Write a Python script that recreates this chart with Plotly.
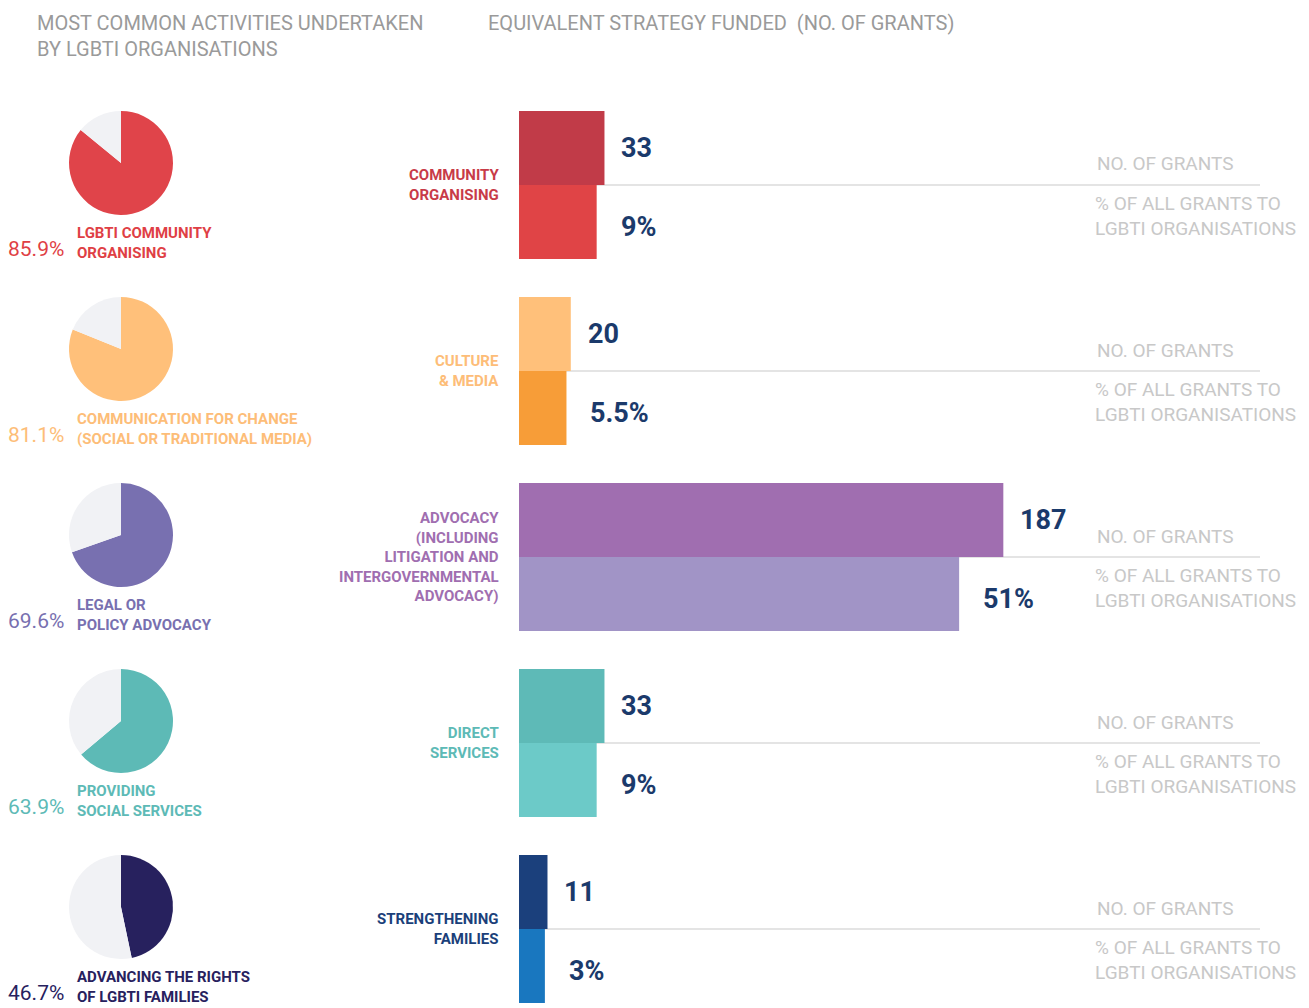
import plotly.graph_objects as go

W, H = 1309, 1008

# ---------------- data ----------------
activity_share = [85.9, 81.1, 69.6, 63.9, 46.7]
activity_labels = [
    "LGBTI COMMUNITY<br>ORGANISING",
    "COMMUNICATION FOR CHANGE<br>(SOCIAL OR TRADITIONAL MEDIA)",
    "LEGAL OR<br>POLICY ADVOCACY",
    "PROVIDING<br>SOCIAL SERVICES",
    "ADVANCING THE RIGHTS<br>OF LGBTI FAMILIES",
]
strategies = [
    "COMMUNITY<br>ORGANISING",
    "CULTURE<br>& MEDIA",
    "ADVOCACY<br>(INCLUDING<br>LITIGATION AND<br>INTERGOVERNMENTAL<br>ADVOCACY)",
    "DIRECT<br>SERVICES",
    "STRENGTHENING<br>FAMILIES",
]
grants = [33, 20, 187, 33, 11]
grant_share = [9, 5.5, 51, 9, 3]

# ---------------- styles ----------------
pie_colors = ["#e0444a", "#ffc07a", "#7870b0", "#5dbab6", "#27215e"]
act_text_colors = ["#df3f45", "#fdbd78", "#7870b0", "#5dbab6", "#27215e"]
strat_text_colors = ["#c83b48", "#fdbd78", "#a06eb0", "#5dbab6", "#1b3f7a"]
count_colors = ["#c13b48", "#ffc07a", "#a06eb0", "#5ebab7", "#1b407c"]
share_colors = ["#e04446", "#f79d38", "#a194c6", "#6ccac8", "#1977bf"]
rest_color = "#f1f2f5"
value_color = "#1b3a6b"
grey_text = "#9a9a9a"
light_text = "#c8c8c8"
FONT = "Roboto"

ROW0, PITCH, BAR_H = 185, 186, 74
BAR_X0 = 519
PX_PER_GRANT = 2.59
PX_PER_PCT = 8.63
half = BAR_H / 2 / PITCH


def px(x):
    return x / W


def py(y):
    return 1 - y / H


fig = go.Figure()

n = len(grants)
groups = list(range(n))

# bars: number of grants
fig.add_trace(go.Bar(
    x=grants, y=[g - half for g in groups], orientation="h",
    width=BAR_H / PITCH, marker=dict(color=count_colors, line=dict(width=0)),
    xaxis="x", yaxis="y", hoverinfo="x", showlegend=False,
))
# bars: share of grants
fig.add_trace(go.Bar(
    x=grant_share, y=[g + half for g in groups], orientation="h",
    width=BAR_H / PITCH, marker=dict(color=share_colors, line=dict(width=0)),
    xaxis="x2", yaxis="y", hoverinfo="x", showlegend=False,
))

# pies
R = 52
for i in groups:
    cy = ROW0 + PITCH * i - 22
    cx = 121
    fig.add_trace(go.Pie(
        values=[activity_share[i], 100 - activity_share[i]],
        marker=dict(colors=[pie_colors[i], rest_color], line=dict(width=0)),
        sort=False, direction="clockwise", rotation=0,
        textinfo="none", hoverinfo="none", showlegend=False,
        domain=dict(x=[px(cx - R), px(cx + R)], y=[py(cy + R), py(cy - R)]),
    ))

annotations = []
shapes = []

# titles
annotations.append(dict(
    x=px(35), y=py(9), xref="paper", yref="paper", xanchor="left", yanchor="top",
    text="MOST COMMON ACTIVITIES UNDERTAKEN<br>BY LGBTI ORGANISATIONS", align="left",
    showarrow=False, font=dict(family=FONT, size=20, color=grey_text),
))
annotations.append(dict(
    x=px(486), y=py(9), xref="paper", yref="paper", xanchor="left", yanchor="top",
    text="EQUIVALENT STRATEGY FUNDED  (NO. OF GRANTS)", align="left",
    showarrow=False, font=dict(family=FONT, size=20, color=grey_text),
))

for i in groups:
    line_y = ROW0 + PITCH * i
    # left percentage
    annotations.append(dict(
        x=px(66), y=py(line_y + 64), xref="paper", yref="paper", xanchor="right", yanchor="middle",
        text=f"{activity_share[i]}%", showarrow=False,
        font=dict(family=FONT, size=21, color=act_text_colors[i]),
    ))
    # activity label
    annotations.append(dict(
        x=px(75), y=py(line_y + 58), xref="paper", yref="paper", xanchor="left", yanchor="middle",
        text=f"<b>{activity_labels[i]}</b>", align="left", showarrow=False,
        font=dict(family=FONT, size=15, color=act_text_colors[i]),
    ))
    # strategy label
    annotations.append(dict(
        x=px(501), y=py(line_y), xref="paper", yref="paper", xanchor="right", yanchor="middle",
        text=f"<b>{strategies[i]}</b>", align="right", showarrow=False,
        font=dict(family=FONT, size=15, color=strat_text_colors[i]),
    ))
    # value labels
    annotations.append(dict(
        x=grants[i], y=i - half, xref="x", yref="y", xanchor="left", yanchor="middle",
        xshift=15, text=f"<b>{grants[i]}</b>", showarrow=False,
        font=dict(family=FONT, size=27, color=value_color),
    ))
    annotations.append(dict(
        x=grant_share[i], y=i + half, xref="x2", yref="y", xanchor="left", yanchor="middle",
        xshift=22, yshift=-5, text=f"<b>{grant_share[i]:g}%</b>", showarrow=False,
        font=dict(family=FONT, size=27, color=value_color),
    ))
    # right legends
    annotations.append(dict(
        x=px(1095), y=py(line_y - 21), xref="paper", yref="paper", xanchor="left", yanchor="middle",
        text="NO. OF GRANTS", showarrow=False,
        font=dict(family=FONT, size=19, color=light_text),
    ))
    annotations.append(dict(
        x=px(1093), y=py(line_y + 31), xref="paper", yref="paper", xanchor="left", yanchor="middle",
        text="% OF ALL GRANTS TO<br>LGBTI ORGANISATIONS", align="left", showarrow=False,
        font=dict(family=FONT, size=19, color=light_text),
    ))
    # separator line
    shapes.append(dict(
        type="line", xref="paper", yref="y", x0=px(BAR_X0), x1=px(1260), y0=i, y1=i,
        line=dict(color="#e4e4e4", width=2), layer="below",
    ))

x_span = (W - BAR_X0)
fig.update_layout(
    width=W, height=H,
    margin=dict(l=0, r=0, t=0, b=0),
    paper_bgcolor="white", plot_bgcolor="white",
    barmode="overlay",
    xaxis=dict(domain=[px(BAR_X0), 1], range=[0, x_span / PX_PER_GRANT],
               visible=False, fixedrange=True),
    xaxis2=dict(domain=[px(BAR_X0), 1], range=[0, x_span / PX_PER_PCT],
                overlaying="x", visible=False, fixedrange=True),
    yaxis=dict(domain=[0, 1], range=[(H - ROW0) / PITCH, -ROW0 / PITCH],
               visible=False, fixedrange=True),
    annotations=annotations,
    shapes=shapes,
)

fig.write_html(
    "out.html",
    config={"displayModeBar": False},
    post_script="document.body.style.margin='0';document.body.style.overflow='hidden';",
)
